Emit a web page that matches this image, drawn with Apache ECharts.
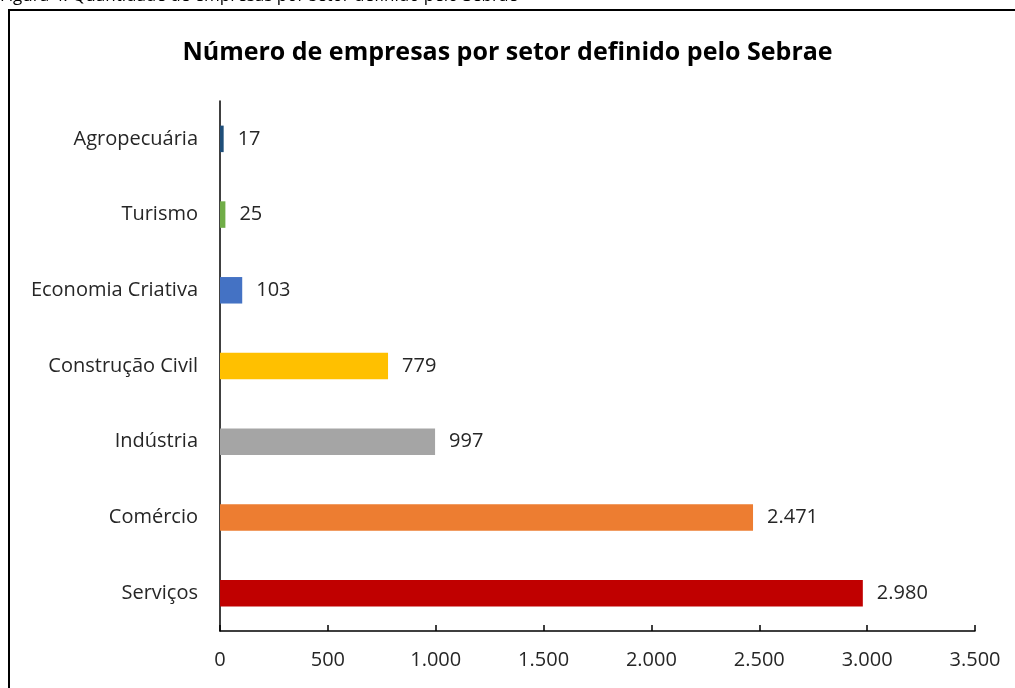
<!DOCTYPE html>
<html>
<head>
    <meta charset="utf-8">
    <script src="https://cdn.jsdelivr.net/npm/echarts@6/dist/echarts.min.js"></script>
    <style>
        html, body { margin: 0; padding: 0; background: #fff; }
        #main { width: 1015px; height: 688px; }
    </style>
</head>
<body>
    <div id="main"></div>
    <script>
        // dados (de cima para baixo)
        var setores = ['Agropecuária', 'Turismo', 'Economia Criativa', 'Construção Civil', 'Indústria', 'Comércio', 'Serviços'];
        var empresas = [17, 25, 103, 779, 997, 2471, 2980];
        var cores = ['#1F4E79', '#70AD47', '#4472C4', '#FFC000', '#A5A5A5', '#ED7D31', '#C00000'];
        var ticksX = [0, 500, 1000, 1500, 2000, 2500, 3000, 3500];

        var fonte = '"Open Sans", Lato, sans-serif';

        function fmt(v) {
            return String(v).replace(/\B(?=(\d{3})+(?!\d))/g, '.');
        }

        var chart = echarts.init(document.getElementById('main'));

        var option = {
            animation: false,
            backgroundColor: '#fff',
            textStyle: { fontFamily: fonte },
            title: {
                text: 'Número de empresas por setor definido pelo Sebrae',
                left: 'center',
                top: 35,
                textStyle: { fontFamily: fonte, fontSize: 25, fontWeight: 'bold', color: '#000' }
            },
            graphic: [{
                type: 'text',
                left: 0,
                top: -12,
                style: {
                    text: 'Figura 4: Quantidade de empresas por setor definido pelo Sebrae',
                    fontFamily: fonte, fontSize: 17, fill: '#000'
                }
            }, {
                type: 'rect',
                shape: { x: 9, y: 10, width: 1020, height: 700 },
                style: { fill: 'none', stroke: '#000', lineWidth: 2 }
            }],
            grid: { left: 220, right: 40, top: 101, bottom: 57 },
            xAxis: {
                type: 'value',
                min: ticksX[0],
                max: ticksX[ticksX.length - 1],
                interval: 500,
                splitLine: { show: false },
                axisLine: { show: true, lineStyle: { color: '#000', width: 1.5 } },
                axisTick: { show: true, inside: true, length: 6, lineStyle: { color: '#000', width: 1.5 } },
                axisLabel: { color: '#262626', fontSize: 20, margin: 19, formatter: fmt }
            },
            yAxis: {
                type: 'category',
                inverse: true,
                data: setores,
                axisLine: { show: true, lineStyle: { color: '#000', width: 1.5 } },
                axisTick: { show: false },
                axisLabel: { color: '#262626', fontSize: 20, margin: 22 }
            },
            series: [{
                type: 'bar',
                barWidth: '35%',
                data: empresas.map(function (v, i) {
                    return { value: v, itemStyle: { color: cores[i] } };
                }),
                label: {
                    show: true,
                    position: 'right',
                    distance: 14,
                    color: '#262626',
                    fontSize: 20,
                    formatter: function (p) { return fmt(p.value); }
                }
            }]
        };

        chart.setOption(option);
    </script>
</body>
</html>
